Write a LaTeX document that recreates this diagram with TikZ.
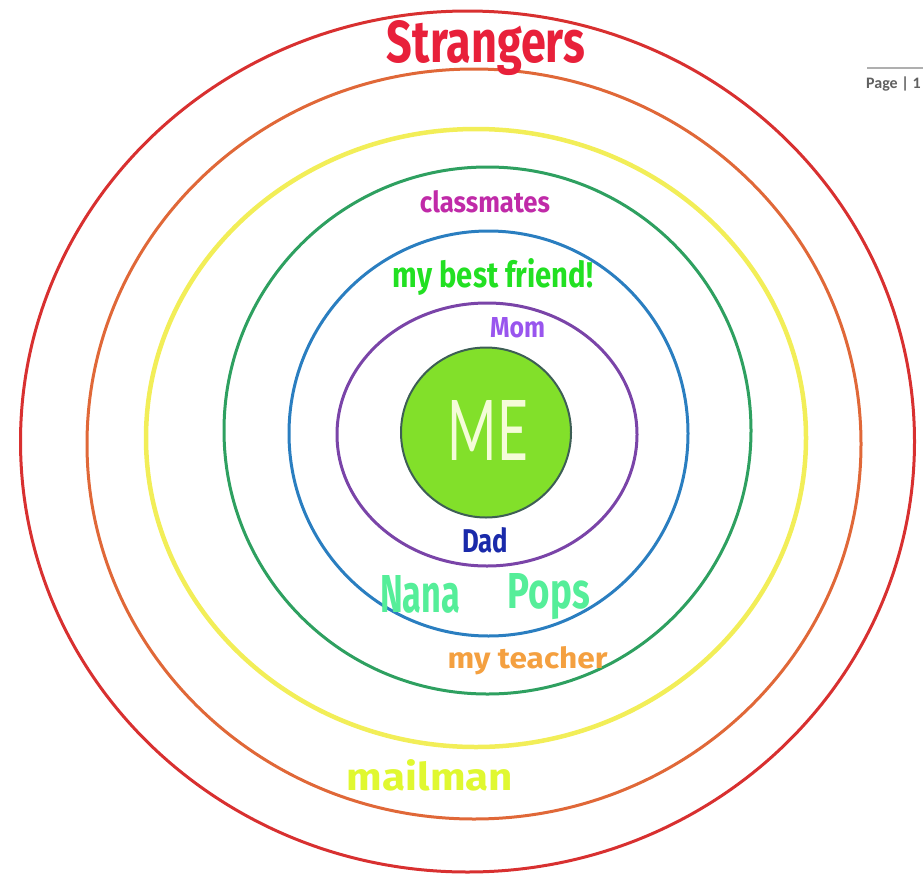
\documentclass[tikz,border=0pt]{standalone}
\usepackage{fontspec}
\setmainfont{Fira Sans}
\newfontfamily\mefont{Lato}
\newfontfamily\pagefont{Carlito}
\usepackage{graphicx}
\definecolor{ringred}{HTML}{D83030}
\definecolor{ringorange}{HTML}{E06838}
\definecolor{ringyellow}{HTML}{F2EE58}
\definecolor{ringgreen}{HTML}{2EA060}
\definecolor{ringblue}{HTML}{2A7EC0}
\definecolor{ringpurple}{HTML}{7A44A8}
\definecolor{mefill}{HTML}{82E02A}
\definecolor{meborder}{HTML}{3D5E55}
\definecolor{metext}{HTML}{F4FCD8}
\definecolor{tstrangers}{HTML}{E8203A}
\definecolor{tclass}{HTML}{C02AA8}
\definecolor{tfriend}{HTML}{22E022}
\definecolor{tmom}{HTML}{9955EE}
\definecolor{tdad}{HTML}{1A2AAA}
\definecolor{tnana}{HTML}{55EE99}
\definecolor{tteacher}{HTML}{F4A040}
\definecolor{tmail}{HTML}{E0F830}
\definecolor{pagegray}{HTML}{606060}
\newcommand{\fitbox}[3]{\resizebox{#1pt}{#2pt}{\bfseries #3}}
\begin{document}
\begin{tikzpicture}[x=1pt,y=-1pt,
  ring/.style={line width=3pt},
  lbl/.style={anchor=base,inner sep=0pt}]
\useasboundingbox (0,0) rectangle (923,878);
% rings
\draw[ring,ringred] (467.5,441.5) ellipse [x radius=447, y radius=430.5];
\draw[ring,ringorange] (474,444) ellipse [x radius=387, y radius=375];
\draw[ring,ringyellow,line width=4.5pt] (476,438) ellipse [x radius=330, y radius=309];
\draw[ring,ringgreen] (487.5,430.5) ellipse [x radius=263.5, y radius=263.5];
\draw[ring,ringblue] (488.5,433.5) ellipse [x radius=199.5, y radius=202.5];
\draw[ring,ringpurple] (487,434.5) ellipse [x radius=150, y radius=131.5];
% center
\node[circle,draw=meborder,line width=2pt,fill=mefill,minimum size=170pt,inner sep=0pt] (me) at (486,432.5) {};
\node[lbl,text=metext] (metxt) at (488,460) {\resizebox{80pt}{60pt}{\mefont ME}};
% labels
\node[lbl,text=tstrangers] (strangers) at (486,62) {\fitbox{198}{42}{Strangers}};
\node[lbl,text=tclass] (classmates) at (485,212) {\fitbox{130}{22}{classmates}};
\node[lbl,text=tfriend] (friend) at (493,287) {\fitbox{200}{29}{my best friend!}};
\node[lbl,text=tmom] (mom) at (517.5,337) {\fitbox{55}{20}{Mom}};
\node[lbl,text=tdad] (dad) at (485,552) {\fitbox{46}{25}{Dad}};
\node[lbl,text=tnana] (nana) at (420,612) {\fitbox{80}{37}{Nana}};
\node[lbl,text=tnana] (pops) at (549,608) {\fitbox{82}{35}{Pops}};
\node[lbl,text=tteacher] (teacher) at (527.5,668) {\fitbox{160}{22}{my teacher}};
\node[lbl,text=tmail] (mailman) at (430,790) {\fitbox{166}{31}{mailman}};
% page footer
\coordinate (pl) at (867,68);
\coordinate (pr) at (923,68);
\draw[pagegray!50,line width=1.5pt] (pl) -- (pr);
\node[anchor=base west,inner sep=0pt,text=pagegray] (page) at (866,88) {\pagefont\bfseries\fontsize{16}{18}\selectfont Page | 1};
\end{tikzpicture}
\end{document}
